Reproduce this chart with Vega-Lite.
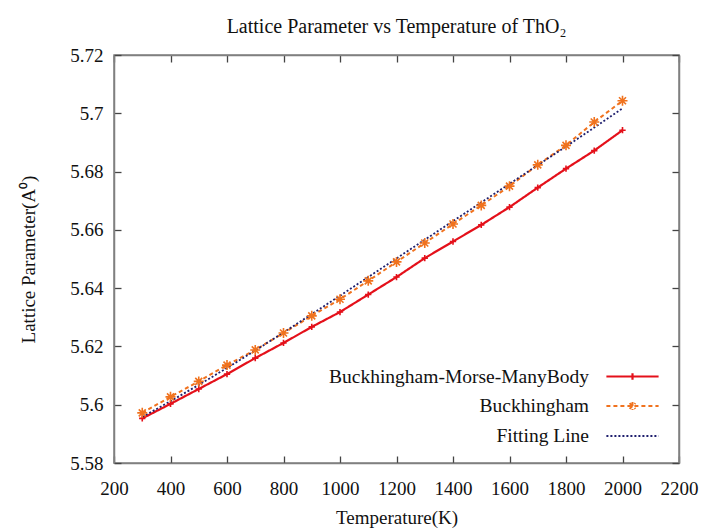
{
  "$schema": "https://vega.github.io/schema/vega-lite/v6.json",
  "width": 565,
  "height": 408,
  "autosize": {"type": "none"},
  "padding": {"left": 114, "top": 55, "right": 36, "bottom": 66},
  "background": "white",
  "title": {
    "text": "Lattice Parameter vs Temperature of ThO₂",
    "font": "Liberation Serif",
    "fontSize": 20,
    "fontWeight": "normal",
    "color": "#111",
    "anchor": "middle",
    "offset": 9
  },
  "config": {
    "view": {"stroke": "#808080", "strokeWidth": 1.5},
    "axis": {
      "labelFont": "Liberation Serif",
      "labelFontSize": 19,
      "labelColor": "#111",
      "titleFont": "Liberation Serif",
      "titleFontSize": 19,
      "titleFontWeight": "normal",
      "titleColor": "#111",
      "grid": false,
      "domainColor": "#808080",
      "domainWidth": 1.5,
      "tickColor": "#444",
      "tickWidth": 1.3,
      "tickSize": -7
    },
    "legend": {
      "labelFont": "Liberation Serif",
      "labelFontSize": 19.5,
      "labelColor": "#111",
      "labelLimit": 400
    }
  },
  "data": {
    "values": [
      {"T": 300, "a": 5.5953, "series": "Buckhingham-Morse-ManyBody"},
      {"T": 400, "a": 5.6003, "series": "Buckhingham-Morse-ManyBody"},
      {"T": 500, "a": 5.6054, "series": "Buckhingham-Morse-ManyBody"},
      {"T": 600, "a": 5.6105, "series": "Buckhingham-Morse-ManyBody"},
      {"T": 700, "a": 5.6160, "series": "Buckhingham-Morse-ManyBody"},
      {"T": 800, "a": 5.6212, "series": "Buckhingham-Morse-ManyBody"},
      {"T": 900, "a": 5.6267, "series": "Buckhingham-Morse-ManyBody"},
      {"T": 1000, "a": 5.6318, "series": "Buckhingham-Morse-ManyBody"},
      {"T": 1100, "a": 5.6378, "series": "Buckhingham-Morse-ManyBody"},
      {"T": 1200, "a": 5.6438, "series": "Buckhingham-Morse-ManyBody"},
      {"T": 1300, "a": 5.6503, "series": "Buckhingham-Morse-ManyBody"},
      {"T": 1400, "a": 5.6560, "series": "Buckhingham-Morse-ManyBody"},
      {"T": 1500, "a": 5.6617, "series": "Buckhingham-Morse-ManyBody"},
      {"T": 1600, "a": 5.6678, "series": "Buckhingham-Morse-ManyBody"},
      {"T": 1700, "a": 5.6745, "series": "Buckhingham-Morse-ManyBody"},
      {"T": 1800, "a": 5.6810, "series": "Buckhingham-Morse-ManyBody"},
      {"T": 1900, "a": 5.6872, "series": "Buckhingham-Morse-ManyBody"},
      {"T": 2000, "a": 5.6942, "series": "Buckhingham-Morse-ManyBody"},
      {"T": 300, "a": 5.5972, "series": "Buckhingham"},
      {"T": 400, "a": 5.6027, "series": "Buckhingham"},
      {"T": 500, "a": 5.6080, "series": "Buckhingham"},
      {"T": 600, "a": 5.6136, "series": "Buckhingham"},
      {"T": 700, "a": 5.6188, "series": "Buckhingham"},
      {"T": 800, "a": 5.6246, "series": "Buckhingham"},
      {"T": 900, "a": 5.6305, "series": "Buckhingham"},
      {"T": 1000, "a": 5.6362, "series": "Buckhingham"},
      {"T": 1100, "a": 5.6425, "series": "Buckhingham"},
      {"T": 1200, "a": 5.6490, "series": "Buckhingham"},
      {"T": 1300, "a": 5.6555, "series": "Buckhingham"},
      {"T": 1400, "a": 5.6620, "series": "Buckhingham"},
      {"T": 1500, "a": 5.6684, "series": "Buckhingham"},
      {"T": 1600, "a": 5.6750, "series": "Buckhingham"},
      {"T": 1700, "a": 5.6823, "series": "Buckhingham"},
      {"T": 1800, "a": 5.6890, "series": "Buckhingham"},
      {"T": 1900, "a": 5.6970, "series": "Buckhingham"},
      {"T": 2000, "a": 5.7043, "series": "Buckhingham"},
      {"T": 300, "a": 5.5958, "series": "Fitting Line"},
      {"T": 400, "a": 5.6012, "series": "Fitting Line"},
      {"T": 500, "a": 5.6068, "series": "Fitting Line"},
      {"T": 600, "a": 5.6126, "series": "Fitting Line"},
      {"T": 700, "a": 5.6186, "series": "Fitting Line"},
      {"T": 800, "a": 5.6248, "series": "Fitting Line"},
      {"T": 900, "a": 5.6311, "series": "Fitting Line"},
      {"T": 1000, "a": 5.6374, "series": "Fitting Line"},
      {"T": 1100, "a": 5.6438, "series": "Fitting Line"},
      {"T": 1200, "a": 5.6502, "series": "Fitting Line"},
      {"T": 1300, "a": 5.6566, "series": "Fitting Line"},
      {"T": 1400, "a": 5.6630, "series": "Fitting Line"},
      {"T": 1500, "a": 5.6694, "series": "Fitting Line"},
      {"T": 1600, "a": 5.6758, "series": "Fitting Line"},
      {"T": 1700, "a": 5.6822, "series": "Fitting Line"},
      {"T": 1800, "a": 5.6886, "series": "Fitting Line"},
      {"T": 1900, "a": 5.6951, "series": "Fitting Line"},
      {"T": 2000, "a": 5.7017, "series": "Fitting Line"}
    ]
  },
  "resolve": {"axis": {"x": "independent", "y": "independent"}},
  "layer": [
    {
      "mark": {"type": "line"},
      "encoding": {
        "x": {
          "field": "T", "type": "quantitative",
          "scale": {"domain": [200, 2200], "nice": false, "zero": false},
          "axis": {"values": [200, 400, 600, 800, 1000, 1200, 1400, 1600, 1800, 2000, 2200], "format": "d", "labelPadding": 23, "title": "Temperature(K)", "titlePadding": 10, "labelFlush": false}
        },
        "y": {
          "field": "a", "type": "quantitative",
          "scale": {"domain": [5.58, 5.72], "nice": false, "zero": false},
          "axis": {"values": [5.58, 5.6, 5.62, 5.64, 5.66, 5.68, 5.7, 5.72], "format": ".2~f", "labelPadding": 18, "title": "Lattice Parameter(A⁰)", "titlePadding": 31, "labelFlush": false}
        },
        "color": {
          "field": "series", "type": "nominal",
          "scale": {"domain": ["Buckhingham-Morse-ManyBody", "Buckhingham", "Fitting Line"], "range": ["#e4101a", "#f0721e", "#1f1f6e"]},
          "legend": {
            "title": null,
            "orient": "none",
            "legendX": 508,
            "legendY": 311,
            "symbolSize": 324,
            "symbolStrokeWidth": 1.8,
            "labelAlign": "right",
            "labelOffset": -54,
            "rowPadding": 10,
            "padding": 0,
            "encode": {
              "symbols": {
                "update": {
                  "fill": {"value": "transparent"},
                  "shape": {"signal": "datum.value === 'Buckhingham-Morse-ManyBody' ? 'M-2.9,0H2.9M0,-0.35V0.35' : datum.value === 'Buckhingham' ? 'M-2.9,0H2.9M0,-0.45V0.45M-0.32,-0.32L0.32,0.32M-0.32,0.32L0.32,-0.32' : 'M-2.9,0H2.9'"},
                  "strokeDash": {"signal": "datum.value === 'Buckhingham' ? [4, 3] : datum.value === 'Fitting Line' ? [2, 2] : [1, 0]"}
                }
              }
            }
          }
        },
        "strokeDash": {
          "field": "series", "type": "nominal",
          "scale": {"domain": ["Buckhingham-Morse-ManyBody", "Buckhingham", "Fitting Line"], "range": [[1, 0], [4, 3], [2, 2]]},
          "legend": null
        },
        "strokeWidth": {
          "field": "series", "type": "nominal",
          "scale": {"domain": ["Buckhingham-Morse-ManyBody", "Buckhingham", "Fitting Line"], "range": [2.2, 1.8, 1.5]},
          "legend": null
        }
      }
    },
    {
      "transform": [{"filter": "datum.series !== 'Fitting Line'"}],
      "mark": {"type": "point", "filled": false, "strokeWidth": 1.6, "opacity": 1},
      "encoding": {
        "x": {"field": "T", "type": "quantitative", "axis": {"orient": "top", "values": [200, 400, 600, 800, 1000, 1200, 1400, 1600, 1800, 2000, 2200], "labels": false, "title": null}},
        "y": {"field": "a", "type": "quantitative", "axis": {"orient": "right", "values": [5.58, 5.6, 5.62, 5.64, 5.66, 5.68, 5.7, 5.72], "labels": false, "title": null}},
        "color": {"field": "series", "type": "nominal", "legend": null},
        "shape": {
          "field": "series", "type": "nominal",
          "scale": {"domain": ["Buckhingham-Morse-ManyBody", "Buckhingham"], "range": ["M-1,0H1M0,-1V1", "M-1,0H1M0,-1V1M-0.7,-0.7L0.7,0.7M-0.7,0.7L0.7,-0.7"]},
          "legend": null
        },
        "size": {
          "field": "series", "type": "nominal",
          "scale": {"domain": ["Buckhingham-Morse-ManyBody", "Buckhingham"], "range": [40, 100]},
          "legend": null
        }
      }
    }
  ]
}
